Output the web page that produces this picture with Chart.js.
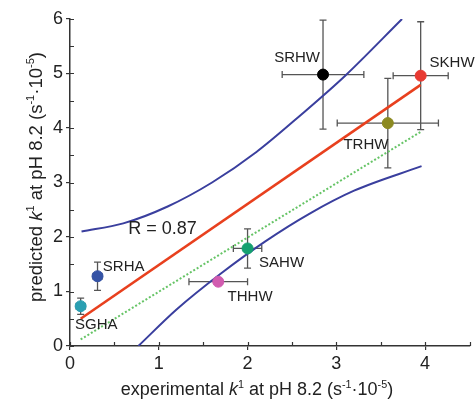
<!DOCTYPE html>
<html>
<head>
<meta charset="utf-8">
<script src="https://cdn.jsdelivr.net/npm/chart.js@4"></script>
<style>
  html, body { margin: 0; padding: 0; background: #fff; }
  #wrap { width: 476px; height: 402px; }
</style>
</head>
<body>
<div id="wrap"><canvas id="chart" width="476" height="402"></canvas></div>
<script>
// samples and values
const samples = ['SGHA', 'SRHA', 'THHW', 'SAHW', 'SRHW', 'SKHW', 'TRHW'];
const expK = [0.12, 0.31, 1.67, 2.00, 2.85, 3.95, 3.58];
const predK = [0.73, 1.28, 1.18, 1.79, 4.98, 4.96, 4.09];
const expErr = [0.05, 0.05, 0.33, 0.16, 0.46, 0.31, 0.57];
const predErr = [0.15, 0.26, 0.05, 0.36, 1.00, 0.99, 0.82];
const pointColors = ['#2a9fb2', '#3553a6', '#d25cb0', '#15a070', '#000000', '#e83a32', '#8c8a22'];

// where each sample name sits (data units: left edge, vertical middle)
const labelX = [0.056, 0.37, 1.775, 2.13, 2.30, 4.05, 3.08];
const labelY = [0.38, 1.45, 0.90, 1.53, 5.29, 5.19, 3.69];

// regression line, 1:1 line, confidence curves
const fitX = [0.12, 3.95];
const fitY = [0.50, 4.79];
const unityX = [0.12, 3.95];
const unityY = [0.12, 3.93];
const upperX = [0.13, 0.6, 1.1, 1.6, 2.1, 2.6, 3.1, 3.74];
const upperY = [2.10, 2.25, 2.56, 3.00, 3.56, 4.24, 4.96, 6.00];
const lowerX = [0.77, 1.2, 1.7, 2.2, 2.7, 3.2, 3.96];
const lowerY = [0.00, 0.67, 1.33, 1.92, 2.43, 2.85, 3.30];

const xTicks = [0, 1, 2, 3, 4];
const yTicks = [0, 1, 2, 3, 4, 5, 6];
const xMinor = [0, 0.5, 1, 1.5, 2, 2.5, 3, 3.5, 4, 4.5];
const yMinor = [0, 0.5, 1, 1.5, 2, 2.5, 3, 3.5, 4, 4.5, 5, 5.5, 6];

const FONT = '"Liberation Sans", Arial, sans-serif';
const AXIS = '#333';

const toXY = (xs, ys) => xs.map((x, i) => ({ x: x, y: ys[i] }));

// rich text: segments of {t, it, sup}
function drawRich(ctx, segs, size, cx, cy, angle) {
    ctx.save();
    ctx.translate(cx, cy);
    ctx.rotate(angle);
    ctx.textBaseline = 'alphabetic';
    ctx.fillStyle = '#222';
    const fontFor = s => (s.it ? 'italic ' : '') + (s.sup ? size * 0.6 : size) + 'px ' + FONT;
    let total = 0;
    segs.forEach(s => { ctx.font = fontFor(s); total += ctx.measureText(s.t).width; });
    let x = -total / 2;
    const base = size * 0.36;
    segs.forEach(s => {
        ctx.font = fontFor(s);
        ctx.fillText(s.t, x, s.sup ? base - size * 0.42 : base);
        x += ctx.measureText(s.t).width;
    });
    ctx.restore();
}

const extras = {
    id: 'extras',
    beforeDraw(chart) {
        const ctx = chart.ctx;
        ctx.save();
        ctx.fillStyle = '#fff';
        ctx.fillRect(0, 0, chart.width, chart.height);
        ctx.restore();
    },
    beforeDatasetsDraw(chart) {
        // error bars
        const ctx = chart.ctx, xs = chart.scales.x, ys = chart.scales.y;
        ctx.save();
        ctx.strokeStyle = '#555';
        ctx.lineWidth = 1.3;
        const cap = 3.5;
        samples.forEach((n, i) => {
            const px = xs.getPixelForValue(expK[i]), py = ys.getPixelForValue(predK[i]);
            const x0 = xs.getPixelForValue(expK[i] - expErr[i]), x1 = xs.getPixelForValue(expK[i] + expErr[i]);
            const y0 = ys.getPixelForValue(predK[i] - predErr[i]), y1 = ys.getPixelForValue(predK[i] + predErr[i]);
            ctx.beginPath();
            ctx.moveTo(x0, py); ctx.lineTo(x1, py);
            ctx.moveTo(x0, py - cap); ctx.lineTo(x0, py + cap);
            ctx.moveTo(x1, py - cap); ctx.lineTo(x1, py + cap);
            ctx.moveTo(px, y0); ctx.lineTo(px, y1);
            ctx.moveTo(px - cap, y0); ctx.lineTo(px + cap, y0);
            ctx.moveTo(px - cap, y1); ctx.lineTo(px + cap, y1);
            ctx.stroke();
        });
        ctx.restore();
    },
    afterDraw(chart) {
        const ctx = chart.ctx, xs = chart.scales.x, ys = chart.scales.y, a = chart.chartArea;
        ctx.save();
        // inward ticks
        ctx.strokeStyle = AXIS;
        ctx.lineWidth = 1.2;
        ctx.beginPath();
        xMinor.forEach(v => {
            const p = Math.round(xs.getPixelForValue(v)) + 0.5;
            ctx.moveTo(p, a.bottom); ctx.lineTo(p, a.bottom - 4);
        });
        yMinor.forEach(v => {
            const p = Math.round(ys.getPixelForValue(v)) + 0.5;
            ctx.moveTo(a.left, p); ctx.lineTo(a.left + 4, p);
        });
        ctx.stroke();

        // sample names
        ctx.fillStyle = '#222';
        ctx.font = '15px ' + FONT;
        ctx.textBaseline = 'middle';
        samples.forEach((n, i) => {
            ctx.fillText(n, xs.getPixelForValue(labelX[i]), ys.getPixelForValue(labelY[i]));
        });
        ctx.font = '18px ' + FONT;
        ctx.fillText('R = 0.87', xs.getPixelForValue(0.655), ys.getPixelForValue(2.14));
        ctx.restore();

        // axis titles
        drawRich(ctx, [
            { t: 'experimental ' }, { t: 'k', it: true }, { t: '1', sup: true },
            { t: ' at pH 8.2 (s' }, { t: '-1', sup: true }, { t: '\u00b710' }, { t: '-5', sup: true }, { t: ')' }
        ], 18, 257, 389, 0);
        drawRich(ctx, [
            { t: 'predicted ' }, { t: 'k', it: true }, { t: '1', sup: true },
            { t: ' at pH 8.2 (s' }, { t: '-1', sup: true }, { t: '\u00b710' }, { t: '-5', sup: true }, { t: ')' }
        ], 18.5, 35, 177, -Math.PI / 2);
    }
};

const lineStyle = (color, width) => ({
    type: 'line', borderColor: color, borderWidth: width, pointRadius: 0,
    fill: false, showLine: true
});

new Chart(document.getElementById('chart'), {
    type: 'scatter',
    data: {
        datasets: [
            {
                label: 'samples',
                data: toXY(expK, predK),
                backgroundColor: pointColors,
                borderColor: pointColors,
                pointRadius: 5.5,
                pointHoverRadius: 5.5
            },
            Object.assign(lineStyle('#e8401e', 2.6), { label: 'fit', data: toXY(fitX, fitY) }),
            Object.assign(lineStyle('#66c466', 2), { label: '1:1', data: toXY(unityX, unityY), borderDash: [2, 2] }),
            Object.assign(lineStyle('#3a3f9e', 2), { label: 'upper', data: toXY(upperX, upperY), cubicInterpolationMode: 'monotone' }),
            Object.assign(lineStyle('#3a3f9e', 2), { label: 'lower', data: toXY(lowerX, lowerY), cubicInterpolationMode: 'monotone' })
        ]
    },
    options: {
        responsive: false,
        animation: false,
        layout: { padding: { top: 19, right: 5, left: 0, bottom: 0 } },
        plugins: { legend: { display: false }, tooltip: { enabled: false } },
        scales: {
            x: {
                type: 'linear', min: 0, max: 4.5,
                afterBuildTicks: s => { s.ticks = xTicks.map(v => ({ value: v })); },
                afterFit: s => { s.height = 56; },
                border: { display: true, color: AXIS, width: 1.5 },
                grid: { drawOnChartArea: false, drawTicks: true, tickLength: 4, color: AXIS, lineWidth: 1.2 },
                ticks: { color: '#222', padding: 3, font: { family: FONT, size: 18 }, maxRotation: 0 }
            },
            y: {
                type: 'linear', min: 0, max: 6,
                afterBuildTicks: s => { s.ticks = yTicks.map(v => ({ value: v })); },
                afterFit: s => { s.width = 70; },
                border: { display: true, color: AXIS, width: 1.5 },
                grid: { drawOnChartArea: false, drawTicks: true, tickLength: 4, color: AXIS, lineWidth: 1.2 },
                ticks: { color: '#222', padding: 3, font: { family: FONT, size: 18 } }
            }
        }
    },
    plugins: [extras]
});
</script>
</body>
</html>
